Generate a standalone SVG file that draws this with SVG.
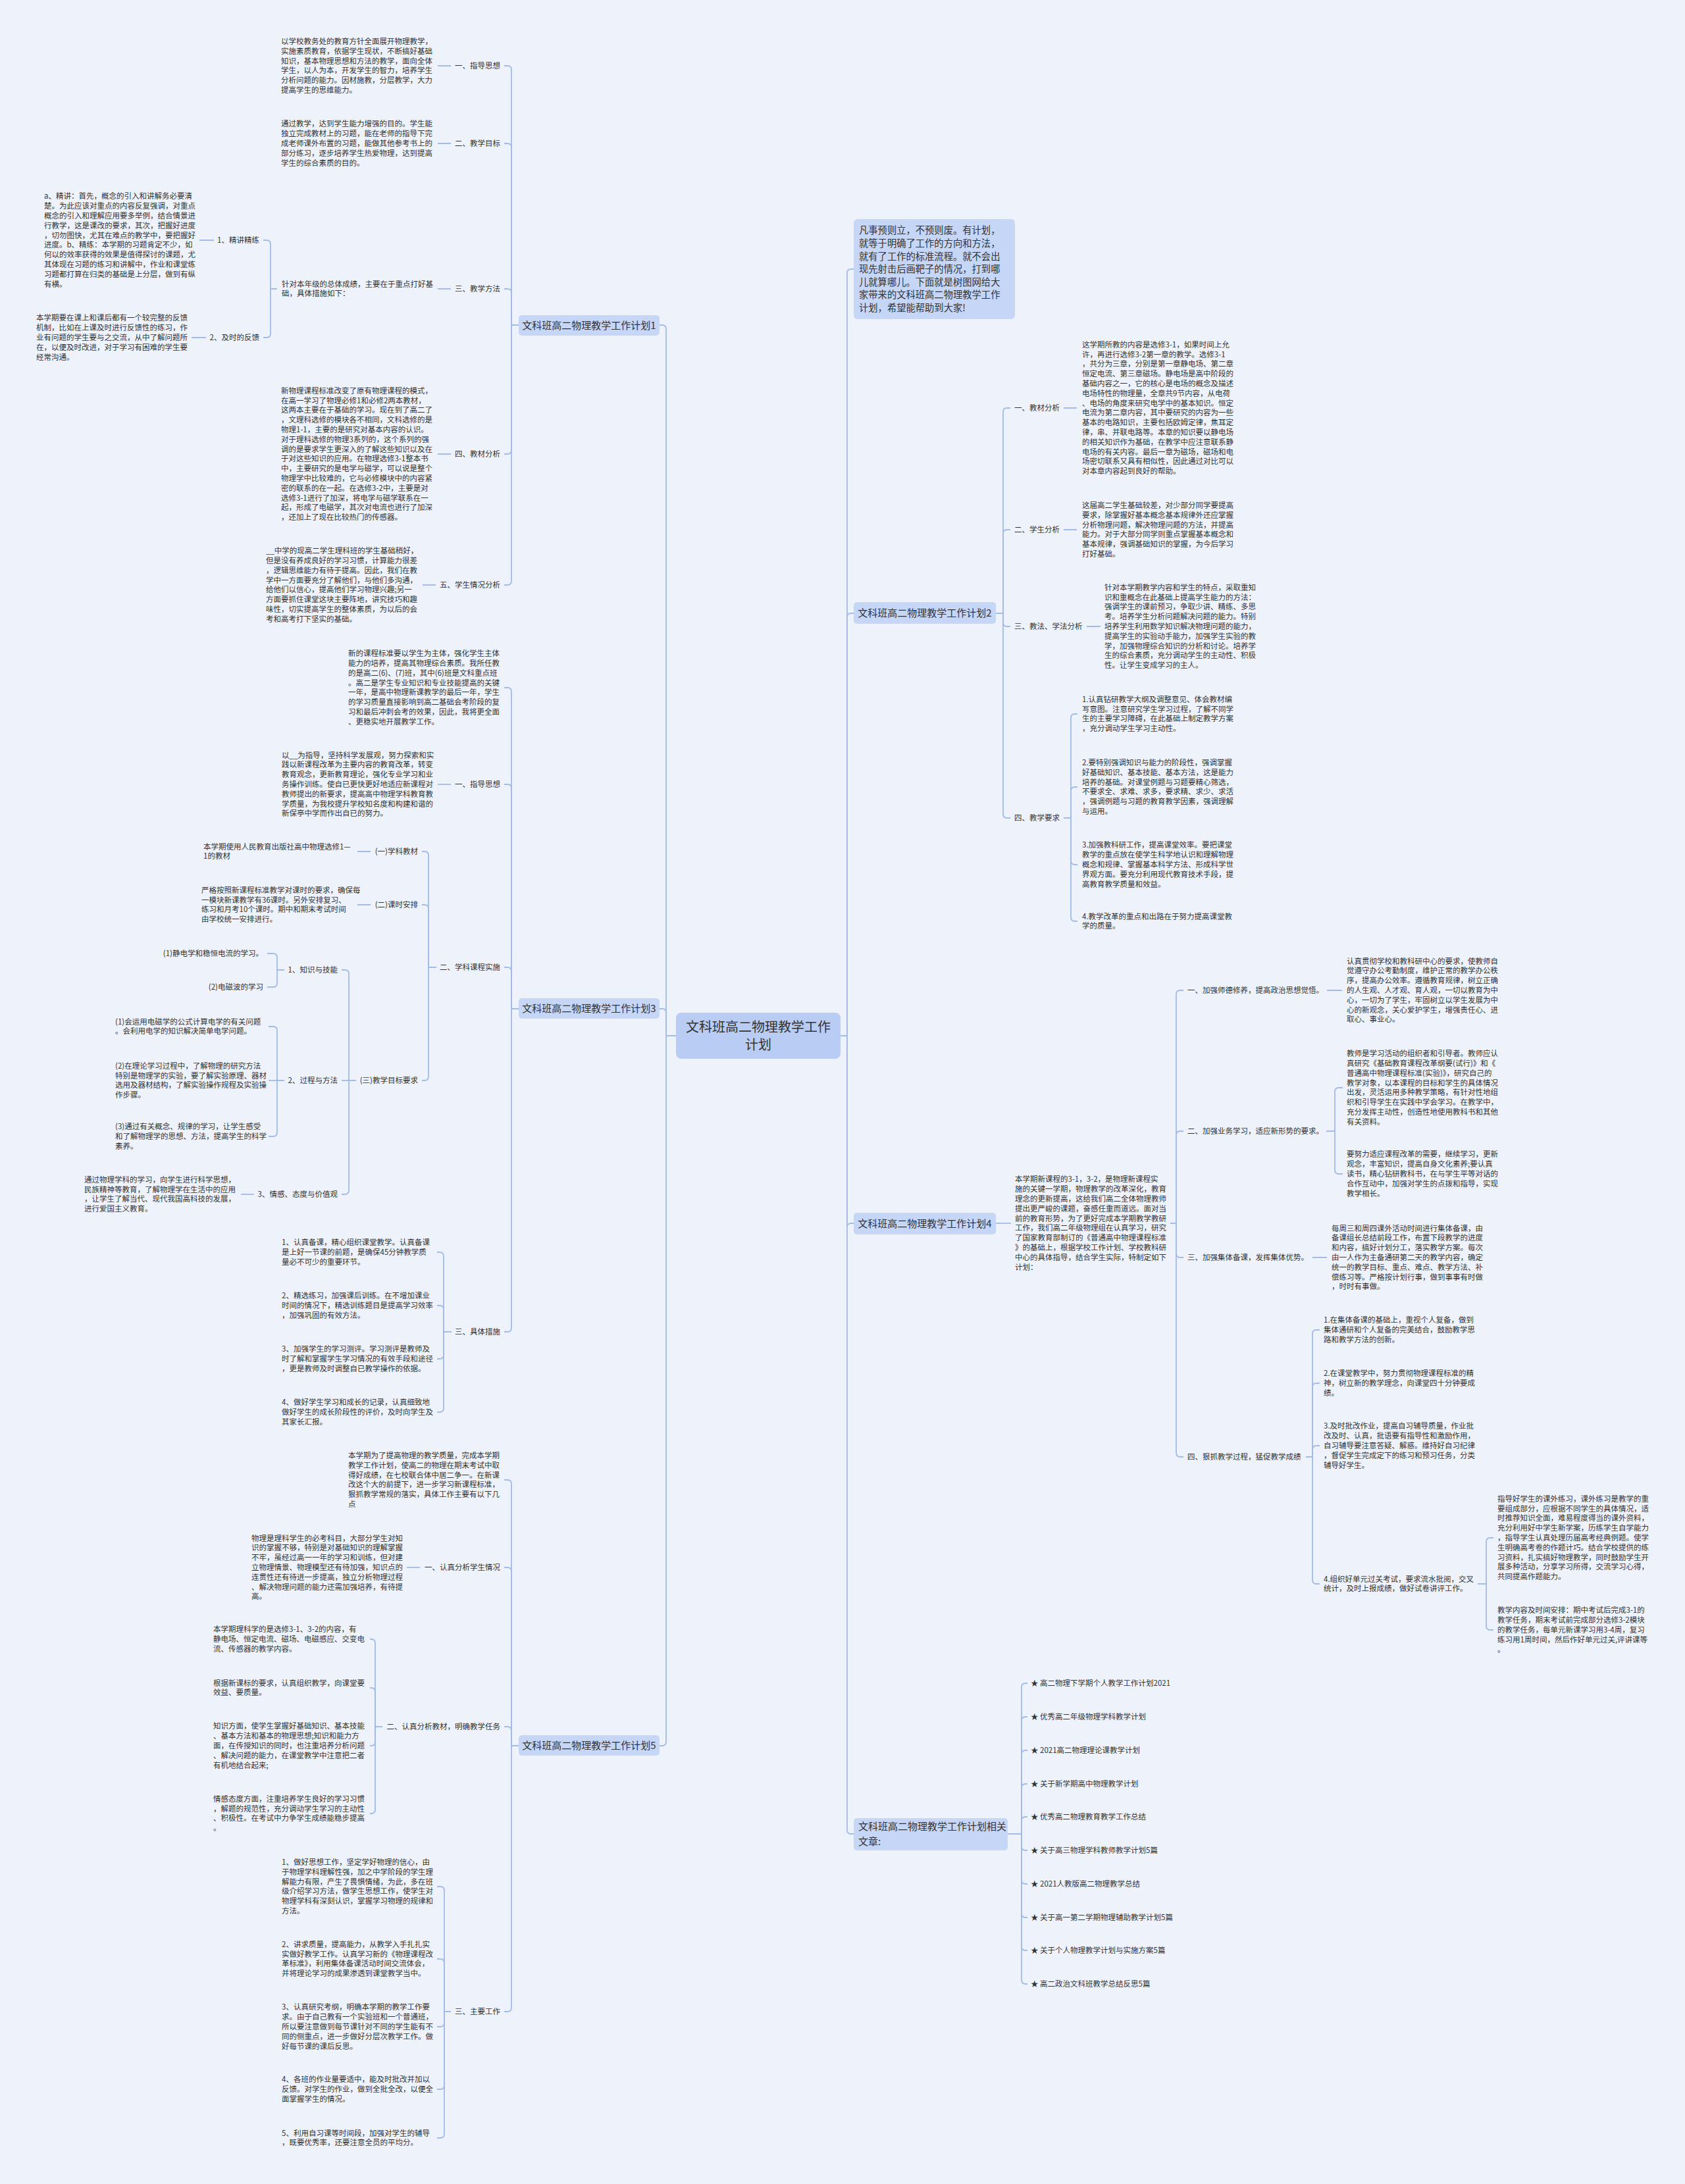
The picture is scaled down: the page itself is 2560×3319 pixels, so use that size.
<svg xmlns="http://www.w3.org/2000/svg" width="2560" height="3319" viewBox="0 0 2560 3319">
<style>
text{font-family:"Noto Sans CJK SC","Noto Sans",sans-serif;fill:#333}
.t{font-size:11.5px}
.e{font-size:11.5px;text-anchor:end}
.pn{font-size:15px;text-anchor:middle}
.ct{font-size:20px;text-anchor:middle}
.it{font-size:14.3px}
.nd{fill:#c5d6f6}
.cn{fill:#b9cdf4}
#connectors path{fill:none;stroke:#a2bbe8;stroke-width:1.8}
</style>
<rect x="0" y="0" width="2560" height="3319" fill="#eef2fa"/>
<g id="connectors">
<path d="M1027 1574H1012V500Q1012 494 1006 494H1002"/>
<path d="M1027 1574H1012V1539Q1012 1533 1006 1533H1002"/>
<path d="M1027 1574H1012V2647Q1012 2653 1006 2653H1002"/>
<path d="M788 494H777V106Q777 100 771 100H766"/>
<path d="M788 494H777V224Q777 218 771 218H766"/>
<path d="M788 494H777V445Q777 439 771 439H766"/>
<path d="M788 494H777V684Q777 690 771 690H766"/>
<path d="M788 494H777V883Q777 889 771 889H766"/>
<path d="M685 100H665M685 218H665M685 439H665M685 690H665M662 889H642"/>
<path d="M421 439H411V371Q411 365 405 365H400"/>
<path d="M421 439H411V507Q411 513 405 513H400"/>
<path d="M325 365H303M313 513H291"/>
<path d="M788 1533H777V1051Q777 1045 771 1045H766"/>
<path d="M788 1533H777V1198Q777 1192 771 1192H766"/>
<path d="M788 1533H777V1476Q777 1470 771 1470H766"/>
<path d="M788 1533H777V2018Q777 2024 771 2024H766"/>
<path d="M685 1192H665"/>
<path d="M663 1470H651V1300Q651 1294 645 1294H641"/>
<path d="M663 1470H651V1381Q651 1375 645 1375H641"/>
<path d="M663 1470H651V1636Q651 1642 645 1642H641"/>
<path d="M563 1294H543M563 1375H543"/>
<path d="M541 1642H530V1480Q530 1474 524 1474H519"/>
<path d="M541 1642H519"/>
<path d="M541 1642H530V1809Q530 1815 524 1815H519"/>
<path d="M432 1474H421V1455Q421 1449 415 1449H406"/>
<path d="M432 1474H421V1494Q421 1500 415 1500H406"/>
<path d="M432 1642H421V1566Q421 1560 415 1560H408"/>
<path d="M432 1642H408"/>
<path d="M432 1642H421V1721Q421 1727 415 1727H408"/>
<path d="M386 1815H366"/>
<path d="M686 2024H674V1909Q674 1903 668 1903H664"/>
<path d="M686 2024H674V1990Q674 1984 668 1984H664"/>
<path d="M686 2024H674V2059Q674 2065 668 2065H664"/>
<path d="M686 2024H674V2140Q674 2146 668 2146H664"/>
<path d="M788 2653H777V2255Q777 2249 771 2249H766"/>
<path d="M788 2653H777V2388Q777 2382 771 2382H766"/>
<path d="M788 2653H777V2630Q777 2624 771 2624H766"/>
<path d="M788 2653H777V3051Q777 3057 771 3057H766"/>
<path d="M638 2382H618"/>
<path d="M581 2624H570V2497Q570 2491 564 2491H562"/>
<path d="M581 2624H570V2571Q570 2565 564 2565H562"/>
<path d="M581 2624H570V2647Q570 2653 564 2653H562"/>
<path d="M581 2624H570V2750Q570 2756 564 2756H562"/>
<path d="M685 3057H675V2873Q675 2867 669 2867H664"/>
<path d="M685 3057H675V2983Q675 2977 669 2977H664"/>
<path d="M685 3057H675V3074Q675 3080 669 3080H664"/>
<path d="M685 3057H675V3169Q675 3175 669 3175H664"/>
<path d="M685 3057H675V3243Q675 3249 669 3249H664"/>
<path d="M1277 1574H1287V415Q1287 409 1293 409H1297"/>
<path d="M1277 1574H1287V938Q1287 932 1293 932H1297"/>
<path d="M1277 1574H1287V1865Q1287 1859 1293 1859H1297"/>
<path d="M1277 1574H1287V2781Q1287 2787 1293 2787H1297"/>
<path d="M1513 932H1524V626Q1524 620 1530 620H1535"/>
<path d="M1513 932H1524V811Q1524 805 1530 805H1535"/>
<path d="M1513 932H1524V946Q1524 952 1530 952H1535"/>
<path d="M1513 932H1524V1237Q1524 1243 1530 1243H1535"/>
<path d="M1616 620H1636M1616 805H1636M1651 952H1672"/>
<path d="M1616 1243H1627V1091Q1627 1085 1633 1085H1637"/>
<path d="M1616 1243H1627V1202Q1627 1196 1633 1196H1637"/>
<path d="M1616 1243H1627V1308Q1627 1314 1633 1314H1637"/>
<path d="M1616 1243H1627V1394Q1627 1400 1633 1400H1637"/>
<path d="M1513 1859H1536"/>
<path d="M1778 1859H1787V1511Q1787 1505 1793 1505H1798"/>
<path d="M1778 1859H1787V1725Q1787 1719 1793 1719H1798"/>
<path d="M1778 1859H1787V1905Q1787 1911 1793 1911H1798"/>
<path d="M1778 1859H1787V2208Q1787 2214 1793 2214H1798"/>
<path d="M2016 1505H2039M1994 1911H2016"/>
<path d="M2015 1719H2028V1659Q2028 1653 2034 1653H2040"/>
<path d="M2015 1719H2028V1778Q2028 1784 2034 1784H2040"/>
<path d="M1984 2214H1994V2027Q1994 2021 2000 2021H2005"/>
<path d="M1984 2214H1994V2108Q1994 2102 2000 2102H2005"/>
<path d="M1984 2214H1994V2203Q1994 2197 2000 2197H2005"/>
<path d="M1984 2214H1994V2401Q1994 2407 2000 2407H2005"/>
<path d="M2245 2407H2258V2343Q2258 2337 2264 2337H2269"/>
<path d="M2245 2407H2258V2471Q2258 2477 2264 2477H2269"/>
<path d="M1531 2787H1552V2564Q1552 2558 1558 2558H1561"/>
<path d="M1531 2787H1552V2615Q1552 2609 1558 2609H1561"/>
<path d="M1531 2787H1552V2666Q1552 2660 1558 2660H1561"/>
<path d="M1531 2787H1552V2717Q1552 2711 1558 2711H1561"/>
<path d="M1531 2787H1552V2767Q1552 2761 1558 2761H1561"/>
<path d="M1531 2787H1552V2806Q1552 2812 1558 2812H1561"/>
<path d="M1531 2787H1552V2857Q1552 2863 1558 2863H1561"/>
<path d="M1531 2787H1552V2908Q1552 2914 1558 2914H1561"/>
<path d="M1531 2787H1552V2958Q1552 2964 1558 2964H1561"/>
<path d="M1531 2787H1552V3009Q1552 3015 1558 3015H1561"/>
</g>
<g id="center">
<rect class="cn" x="1027" y="1539" width="250" height="70" rx="8"/>
<text class="ct" x="1152" y="1568">文科班高二物理教学工作</text>
<text class="ct" x="1152" y="1595">计划</text>
</g>
<g id="plan1">
<rect class="nd" x="788" y="479" width="214" height="31" rx="5"/>
<text class="pn" x="895" y="499.5">文科班高二物理教学工作计划1</text>
</g>
<g id="p1-1">
<text class="e" x="760" y="104">一、指导思想</text>
<text class="t" x="427" y="67"><tspan x="427">以学校教务处的教育方针全面展开物理教学，</tspan><tspan x="427" dy="14.8">实施素质教育，依据学生现状，不断搞好基础</tspan><tspan x="427" dy="14.8">知识，基本物理思想和方法的教学，面向全体</tspan><tspan x="427" dy="14.8">学生，以人为本，开发学生的智力，培养学生</tspan><tspan x="427" dy="14.8">分析问题的能力。因材施教，分层教学，大力</tspan><tspan x="427" dy="14.8">提高学生的思维能力。</tspan></text>
</g>
<g id="p1-2">
<text class="e" x="760" y="222">二、教学目标</text>
<text class="t" x="427" y="192.4"><tspan x="427">通过教学，达到学生能力增强的目的。学生能</tspan><tspan x="427" dy="14.8">独立完成教材上的习题，能在老师的指导下完</tspan><tspan x="427" dy="14.8">成老师课外布置的习题，能做其他参考书上的</tspan><tspan x="427" dy="14.8">部分练习，逐步培养学生热爱物理，达到提高</tspan><tspan x="427" dy="14.8">学生的综合素质的目的。</tspan></text>
</g>
<g id="p1-3">
<text class="e" x="760" y="443">三、教学方法</text>
<text class="t" x="428" y="435.6"><tspan x="428">针对本年级的总体成绩，主要在于重点打好基</tspan><tspan x="428" dy="14.8">础，具体措施如下：</tspan></text>
</g>
<g id="p1-3-1">
<text class="e" x="394" y="369">1、精讲精练</text>
<text class="t" x="67" y="302.4"><tspan x="67">a、精讲：首先，概念的引入和讲解务必要清</tspan><tspan x="67" dy="14.8">楚。为此应该对重点的内容反复强调，对重点</tspan><tspan x="67" dy="14.8">概念的引入和理解应用要多举例，结合情景进</tspan><tspan x="67" dy="14.8">行教学，这是课改的要求，其次，把握好进度</tspan><tspan x="67" dy="14.8">，切勿图快，尤其在难点的教学中，要把握好</tspan><tspan x="67" dy="14.8">进度。b、精练：本学期的习题肯定不少，如</tspan><tspan x="67" dy="14.8">何以的效率获得的效果是值得探讨的课题，尤</tspan><tspan x="67" dy="14.8">其体现在习题的练习和讲解中，作业和课堂练</tspan><tspan x="67" dy="14.8">习题都打算在归类的基础是上分层，做到有纵</tspan><tspan x="67" dy="14.8">有横。</tspan></text>
</g>
<g id="p1-3-2">
<text class="e" x="394" y="517">2、及时的反馈</text>
<text class="t" x="55" y="487.4"><tspan x="55">本学期要在课上和课后都有一个较完整的反馈</tspan><tspan x="55" dy="14.8">机制，比如在上课及时进行反馈性的练习，作</tspan><tspan x="55" dy="14.8">业有问题的学生要与之交流，从中了解问题所</tspan><tspan x="55" dy="14.8">在，以便及时改进，对于学习有困难的学生要</tspan><tspan x="55" dy="14.8">经常沟通。</tspan></text>
</g>
<g id="p1-4">
<text class="e" x="760" y="694">四、教材分析</text>
<text class="t" x="427" y="597.8"><tspan x="427">新物理课程标准改变了原有物理课程的模式，</tspan><tspan x="427" dy="14.8">在高一学习了物理必修1和必修2两本教材，</tspan><tspan x="427" dy="14.8">这两本主要在于基础的学习。现在到了高二了</tspan><tspan x="427" dy="14.8">，文理科选修的模块各不相同，文科选修的是</tspan><tspan x="427" dy="14.8">物理1-1，主要的是研究对基本内容的认识。</tspan><tspan x="427" dy="14.8">对于理科选修的物理3系列的，这个系列的强</tspan><tspan x="427" dy="14.8">调的是要求学生更深入的了解这些知识以及在</tspan><tspan x="427" dy="14.8">于对这些知识的应用。在物理选修3-1整本书</tspan><tspan x="427" dy="14.8">中，主要研究的是电学与磁学，可以说是整个</tspan><tspan x="427" dy="14.8">物理学中比较难的，它与必修模块中的内容紧</tspan><tspan x="427" dy="14.8">密的联系的在一起。在选修3-2中，主要是对</tspan><tspan x="427" dy="14.8">选修3-1进行了加深，将电学与磁学联系在一</tspan><tspan x="427" dy="14.8">起，形成了电磁学，其次对电流也进行了加深</tspan><tspan x="427" dy="14.8">，还加上了现在比较热门的传感器。</tspan></text>
</g>
<g id="p1-5">
<text class="e" x="760" y="893">五、学生情况分析</text>
<text class="t" x="404" y="841.2"><tspan x="404">__中学的现高二学生理科班的学生基础稍好，</tspan><tspan x="404" dy="14.8">但是没有养成良好的学习习惯，计算能力很差</tspan><tspan x="404" dy="14.8">，逻辑思维能力有待于提高。因此，我们在教</tspan><tspan x="404" dy="14.8">学中一方面要充分了解他们，与他们多沟通，</tspan><tspan x="404" dy="14.8">给他们以信心，提高他们学习物理兴趣;另一</tspan><tspan x="404" dy="14.8">方面要抓住课堂这块主要阵地，讲究技巧和趣</tspan><tspan x="404" dy="14.8">味性，切实提高学生的整体素质，为以后的会</tspan><tspan x="404" dy="14.8">考和高考打下坚实的基础。</tspan></text>
</g>
<g id="plan3">
<rect class="nd" x="788" y="1517" width="214" height="31" rx="5"/>
<text class="pn" x="895" y="1538">文科班高二物理教学工作计划3</text>
</g>
<g id="p3-0">
<text class="t" x="529" y="997.2"><tspan x="529">新的课程标准要以学生为主体，强化学生主体</tspan><tspan x="529" dy="14.8">能力的培养，提高其物理综合素质。我所任教</tspan><tspan x="529" dy="14.8">的是高二(6)、(7)班，其中(6)班是文科重点班</tspan><tspan x="529" dy="14.8">。高二是学生专业知识和专业技能提高的关键</tspan><tspan x="529" dy="14.8">一年，是高中物理新课教学的最后一年，学生</tspan><tspan x="529" dy="14.8">的学习质量直接影响到高二基础会考阶段的复</tspan><tspan x="529" dy="14.8">习和最后冲刺会考的效果，因此，我将更全面</tspan><tspan x="529" dy="14.8">、更稳实地开展教学工作。</tspan></text>
</g>
<g id="p3-1">
<text class="e" x="760" y="1196">一、指导思想</text>
<text class="t" x="428" y="1151.6"><tspan x="428">以__为指导，坚持科学发展观，努力探索和实</tspan><tspan x="428" dy="14.8">践以新课程改革为主要内容的教育改革，转变</tspan><tspan x="428" dy="14.8">教育观念，更新教育理论，强化专业学习和业</tspan><tspan x="428" dy="14.8">务操作训练。使自已更快更好地适应新课程对</tspan><tspan x="428" dy="14.8">教师提出的新要求，提高高中物理学科教育教</tspan><tspan x="428" dy="14.8">学质量，为我校提升学校知名度和构建和谐的</tspan><tspan x="428" dy="14.8">新保亭中学而作出自已的努力。</tspan></text>
</g>
<g id="p3-2">
<text class="e" x="760" y="1474">二、学科课程实施</text>
</g>
<g id="p3-2-1">
<text class="e" x="635" y="1298">(一)学科教材</text>
<text class="t" x="309" y="1290.6"><tspan x="309">本学期使用人民教育出版社高中物理选修1—</tspan><tspan x="309" dy="14.8">1的教材</tspan></text>
</g>
<g id="p3-2-2">
<text class="e" x="635" y="1379">(二)课时安排</text>
<text class="t" x="306" y="1356.8"><tspan x="306">严格按照新课程标准教学对课时的要求，确保每</tspan><tspan x="306" dy="14.8">一模块新课教学有36课时。另外安排复习、</tspan><tspan x="306" dy="14.8">练习和月考10个课时。期中和期末考试时间</tspan><tspan x="306" dy="14.8">由学校统一安排进行。</tspan></text>
</g>
<g id="p3-2-3">
<text class="e" x="635" y="1646">(三)教学目标要求</text>
</g>
<g id="p3-2-3-1">
<text class="e" x="513" y="1478">1、知识与技能</text>
<text class="e" x="400" y="1453">(1)静电学和稳恒电流的学习。</text>
<text class="e" x="400" y="1504">(2)电磁波的学习</text>
</g>
<g id="p3-2-3-2">
<text class="e" x="513" y="1646">2、过程与方法</text>
<text class="t" x="175" y="1556.6"><tspan x="175">(1)会运用电磁学的公式计算电学的有关问题</tspan><tspan x="175" dy="14.8">。会利用电学的知识解决简单电学问题。</tspan></text>
<text class="t" x="175" y="1623.8"><tspan x="175">(2)在理论学习过程中，了解物理的研究方法</tspan><tspan x="175" dy="14.8">特别是物理学的实验，要了解实验原理、器材</tspan><tspan x="175" dy="14.8">选用及器材结构，了解实验操作规程及实验操</tspan><tspan x="175" dy="14.8">作步骤。</tspan></text>
<text class="t" x="175" y="1716.2"><tspan x="175">(3)通过有关概念、规律的学习，让学生感受</tspan><tspan x="175" dy="14.8">和了解物理学的思想、方法，提高学生的科学</tspan><tspan x="175" dy="14.8">素养。</tspan></text>
</g>
<g id="p3-2-3-3">
<text class="e" x="513" y="1819">3、情感、态度与价值观</text>
<text class="t" x="128" y="1796.8"><tspan x="128">通过物理学科的学习，向学生进行科学思想，</tspan><tspan x="128" dy="14.8">民族精神等教育，了解物理学在生活中的应用</tspan><tspan x="128" dy="14.8">，让学生了解当代、现代我国高科技的发展，</tspan><tspan x="128" dy="14.8">进行爱国主义教育。</tspan></text>
</g>
<g id="p3-3">
<text class="e" x="760" y="2028">三、具体措施</text>
<text class="t" x="428" y="1892.2"><tspan x="428">1、认真备课，精心组织课堂教学。认真备课</tspan><tspan x="428" dy="14.8">是上好一节课的前题，是确保45分钟教学质</tspan><tspan x="428" dy="14.8">量必不可少的重要环节。</tspan></text>
<text class="t" x="428" y="1973.2"><tspan x="428">2、精选练习，加强课后训练。在不增加课业</tspan><tspan x="428" dy="14.8">时间的情况下，精选训练题目是提高学习效率</tspan><tspan x="428" dy="14.8">，加强巩固的有效方法。</tspan></text>
<text class="t" x="428" y="2054.2"><tspan x="428">3、加强学生的学习测评。学习测评是教师及</tspan><tspan x="428" dy="14.8">时了解和掌握学生学习情况的有效手段和途径</tspan><tspan x="428" dy="14.8">，更是教师及时调整自已教学操作的依据。</tspan></text>
<text class="t" x="428" y="2135.2"><tspan x="428">4、做好学生学习和成长的记录，认真细致地</tspan><tspan x="428" dy="14.8">做好学生的成长阶段性的评价，及时向学生及</tspan><tspan x="428" dy="14.8">其家长汇报。</tspan></text>
</g>
<g id="plan5">
<rect class="nd" x="788" y="2637" width="214" height="31" rx="5"/>
<text class="pn" x="895" y="2658">文科班高二物理教学工作计划5</text>
</g>
<g id="p5-0">
<text class="t" x="529" y="2216"><tspan x="529">本学期为了提高物理的教学质量，完成本学期</tspan><tspan x="529" dy="14.8">教学工作计划，使高二的物理在期末考试中取</tspan><tspan x="529" dy="14.8">得好成绩，在七校联合体中居二争一。在新课</tspan><tspan x="529" dy="14.8">改这个大的前提下，进一步学习新课程标准，</tspan><tspan x="529" dy="14.8">狠抓教学常规的落实，具体工作主要有以下几</tspan><tspan x="529" dy="14.8">点</tspan></text>
</g>
<g id="p5-1">
<text class="e" x="760" y="2386">一、认真分析学生情况</text>
<text class="t" x="382" y="2341.6"><tspan x="382">物理是理科学生的必考科目，大部分学生对知</tspan><tspan x="382" dy="14.8">识的掌握不够，特别是对基础知识的理解掌握</tspan><tspan x="382" dy="14.8">不牢，虽经过高一一年的学习和训练，但对建</tspan><tspan x="382" dy="14.8">立物理情景、物理模型还有待加强，知识点的</tspan><tspan x="382" dy="14.8">连贯性还有待进一步提高，独立分析物理过程</tspan><tspan x="382" dy="14.8">、解决物理问题的能力还需加强培养，有待提</tspan><tspan x="382" dy="14.8">高。</tspan></text>
</g>
<g id="p5-2">
<text class="e" x="760" y="2628">二、认真分析教材，明确教学任务</text>
<text class="t" x="324" y="2480.2"><tspan x="324">本学期理科学的是选修3-1、3-2的内容，有</tspan><tspan x="324" dy="14.8">静电场、恒定电流、磁场、电磁感应、交变电</tspan><tspan x="324" dy="14.8">流、传感器的教学内容。</tspan></text>
<text class="t" x="324" y="2561.6"><tspan x="324">根据新课标的要求，认真组织教学，向课堂要</tspan><tspan x="324" dy="14.8">效益、要质量。</tspan></text>
<text class="t" x="324" y="2627.4"><tspan x="324">知识方面，使学生掌握好基础知识、基本技能</tspan><tspan x="324" dy="14.8">、基本方法和基本的物理思想;知识和能力方</tspan><tspan x="324" dy="14.8">面，在传授知识的同时，也注重培养分析问题</tspan><tspan x="324" dy="14.8">、解决问题的能力，在课堂教学中注意把二者</tspan><tspan x="324" dy="14.8">有机地结合起来;</tspan></text>
<text class="t" x="324" y="2737.8"><tspan x="324">情感态度方面，注重培养学生良好的学习习惯</tspan><tspan x="324" dy="14.8">，解题的规范性，充分调动学生学习的主动性</tspan><tspan x="324" dy="14.8">、积极性。在考试中力争学生成绩能稳步提高</tspan><tspan x="324" dy="14.8">。</tspan></text>
</g>
<g id="p5-3">
<text class="e" x="760" y="3061">三、主要工作</text>
<text class="t" x="428" y="2834"><tspan x="428">1、做好思想工作，坚定学好物理的信心，由</tspan><tspan x="428" dy="14.8">于物理学科理解性强，加之中学阶段的学生理</tspan><tspan x="428" dy="14.8">解能力有限，产生了畏惧情绪，为此，多在班</tspan><tspan x="428" dy="14.8">级介绍学习方法，做学生思想工作，使学生对</tspan><tspan x="428" dy="14.8">物理学科有深刻认识，掌握学习物理的规律和</tspan><tspan x="428" dy="14.8">方法。</tspan></text>
<text class="t" x="428" y="2958.8"><tspan x="428">2、讲求质量，提高能力，从教学入手扎扎实</tspan><tspan x="428" dy="14.8">实做好教学工作。认真学习新的《物理课程改</tspan><tspan x="428" dy="14.8">革标准》，利用集体备课活动时间交流体会，</tspan><tspan x="428" dy="14.8">并将理论学习的成果渗透到课堂教学当中。</tspan></text>
<text class="t" x="428" y="3054.4"><tspan x="428">3、认真研究考纲，明确本学期的教学工作要</tspan><tspan x="428" dy="14.8">求。由于自己教有一个实验班和一个普通班，</tspan><tspan x="428" dy="14.8">所以要注意做到每节课针对不同的学生能有不</tspan><tspan x="428" dy="14.8">同的侧重点，进一步做好分层次教学工作。做</tspan><tspan x="428" dy="14.8">好每节课的课后反思。</tspan></text>
<text class="t" x="428" y="3164.2"><tspan x="428">4、各班的作业量要适中，能及时批改并加以</tspan><tspan x="428" dy="14.8">反馈。对学生的作业，做到全批全改，以便全</tspan><tspan x="428" dy="14.8">面掌握学生的情况。</tspan></text>
<text class="t" x="428" y="3245.6"><tspan x="428">5、利用自习课等时间段，加强对学生的辅导</tspan><tspan x="428" dy="14.8">，既要优秀率，还要注意全员的平均分。</tspan></text>
</g>
<g id="intro">
<rect class="nd" x="1297" y="333" width="245" height="152" rx="6"/>
<text class="it" x="1305" y="355.4"><tspan x="1305">凡事预则立，不预则废。有计划，</tspan><tspan x="1305" dy="19.6">就等于明确了工作的方向和方法，</tspan><tspan x="1305" dy="19.6">就有了工作的标准流程。就不会出</tspan><tspan x="1305" dy="19.6">现先射击后画靶子的情况，打到哪</tspan><tspan x="1305" dy="19.6">儿就算哪儿。下面就是树图网给大</tspan><tspan x="1305" dy="19.6">家带来的文科班高二物理教学工作</tspan><tspan x="1305" dy="19.6">计划，希望能帮助到大家!</tspan></text>
</g>
<g id="plan2">
<rect class="nd" x="1297" y="915" width="216" height="33" rx="5"/>
<text class="pn" x="1405" y="937">文科班高二物理教学工作计划2</text>
</g>
<g id="p2-1">
<text class="t" x="1541" y="624">一、教材分析</text>
<text class="t" x="1644" y="527.8"><tspan x="1644">这学期所教的内容是选修3-1，如果时间上允</tspan><tspan x="1644" dy="14.8">许，再进行选修3-2第一章的教学。选修3-1</tspan><tspan x="1644" dy="14.8">，共分为三章，分别是第一章静电场、第二章</tspan><tspan x="1644" dy="14.8">恒定电流、第三章磁场。静电场是高中阶段的</tspan><tspan x="1644" dy="14.8">基础内容之一，它的核心是电场的概念及描述</tspan><tspan x="1644" dy="14.8">电场特性的物理量，全章共9节内容，从电荷</tspan><tspan x="1644" dy="14.8">、电场的角度来研究电学中的基本知识。恒定</tspan><tspan x="1644" dy="14.8">电流为第二章内容，其中要研究的内容为一些</tspan><tspan x="1644" dy="14.8">基本的电路知识，主要包括欧姆定律，焦耳定</tspan><tspan x="1644" dy="14.8">律，串、并联电路等。本章的知识要以静电场</tspan><tspan x="1644" dy="14.8">的相关知识作为基础，在教学中应注意联系静</tspan><tspan x="1644" dy="14.8">电场的有关内容。最后一章为磁场，磁场和电</tspan><tspan x="1644" dy="14.8">场密切联系又具有相似性，因此通过对比可以</tspan><tspan x="1644" dy="14.8">对本章内容起到良好的帮助。</tspan></text>
</g>
<g id="p2-2">
<text class="t" x="1541" y="809">二、学生分析</text>
<text class="t" x="1644" y="772"><tspan x="1644">这届高二学生基础较差，对少部分同学要提高</tspan><tspan x="1644" dy="14.8">要求，除掌握好基本概念基本规律外还应掌握</tspan><tspan x="1644" dy="14.8">分析物理问题，解决物理问题的方法，并提高</tspan><tspan x="1644" dy="14.8">能力。对于大部分同学则重点掌握基本概念和</tspan><tspan x="1644" dy="14.8">基本规律，强调基础知识的掌握，为今后学习</tspan><tspan x="1644" dy="14.8">打好基础。</tspan></text>
</g>
<g id="p2-3">
<text class="t" x="1541" y="956">三、教法、学法分析</text>
<text class="t" x="1678" y="896.8"><tspan x="1678">针对本学期教学内容和学生的特点，采取重知</tspan><tspan x="1678" dy="14.8">识和重概念在此基础上提高学生能力的方法：</tspan><tspan x="1678" dy="14.8">强调学生的课前预习，争取少讲、精练、多思</tspan><tspan x="1678" dy="14.8">考。培养学生分析问题解决问题的能力。特别</tspan><tspan x="1678" dy="14.8">培养学生利用数学知识解决物理问题的能力，</tspan><tspan x="1678" dy="14.8">提高学生的实验动手能力，加强学生实验的教</tspan><tspan x="1678" dy="14.8">学，加强物理综合知识的分析和讨论。培养学</tspan><tspan x="1678" dy="14.8">生的综合素质，充分调动学生的主动性、积极</tspan><tspan x="1678" dy="14.8">性。让学生变成学习的主人。</tspan></text>
</g>
<g id="p2-4">
<text class="t" x="1541" y="1247">四、教学要求</text>
<text class="t" x="1644" y="1066.8"><tspan x="1644">1.认真钻研教学大纲及调整意见、体会教材编</tspan><tspan x="1644" dy="14.8">写意图。注意研究学生学习过程，了解不同学</tspan><tspan x="1644" dy="14.8">生的主要学习障碍，在此基础上制定教学方案</tspan><tspan x="1644" dy="14.8">，充分调动学生学习主动性。</tspan></text>
<text class="t" x="1644" y="1163"><tspan x="1644">2.要特别强调知识与能力的阶段性，强调掌握</tspan><tspan x="1644" dy="14.8">好基础知识、基本技能、基本方法，这是能力</tspan><tspan x="1644" dy="14.8">培养的基础。对课堂例题与习题要精心筛选，</tspan><tspan x="1644" dy="14.8">不要求全、求难、求多，要求精、求少、求活</tspan><tspan x="1644" dy="14.8">，强调例题与习题的教育教学因素，强调理解</tspan><tspan x="1644" dy="14.8">与运用。</tspan></text>
<text class="t" x="1644" y="1288.4"><tspan x="1644">3.加强教科研工作，提高课堂效率。要把课堂</tspan><tspan x="1644" dy="14.8">教学的重点放在使学生科学地认识和理解物理</tspan><tspan x="1644" dy="14.8">概念和规律、掌握基本科学方法、形成科学世</tspan><tspan x="1644" dy="14.8">界观方面。要充分利用现代教育技术手段，提</tspan><tspan x="1644" dy="14.8">高教育教学质量和效益。</tspan></text>
<text class="t" x="1644" y="1396.6"><tspan x="1644">4.教学改革的重点和出路在于努力提高课堂教</tspan><tspan x="1644" dy="14.8">学的质量。</tspan></text>
</g>
<g id="plan4">
<rect class="nd" x="1297" y="1843" width="216" height="33" rx="5"/>
<text class="pn" x="1405" y="1865">文科班高二物理教学工作计划4</text>
</g>
<g id="p4-0">
<text class="t" x="1542" y="1796.4"><tspan x="1542">本学期新课程的3-1，3-2，是物理新课程实</tspan><tspan x="1542" dy="14.8">施的关键一学期，物理教学的改革深化，教育</tspan><tspan x="1542" dy="14.8">理念的更新提高，这给我们高二全体物理教师</tspan><tspan x="1542" dy="14.8">提出更严峻的课题，奋感任重而道远。面对当</tspan><tspan x="1542" dy="14.8">前的教育形势，为了更好完成本学期教学教研</tspan><tspan x="1542" dy="14.8">工作，我们高二年级物理组在认真学习，研究</tspan><tspan x="1542" dy="14.8">了国家教育部制订的《普通高中物理课程标准</tspan><tspan x="1542" dy="14.8">》的基础上，根据学校工作计划、学校教科研</tspan><tspan x="1542" dy="14.8">中心的具体指导，结合学生实际，特制定如下</tspan><tspan x="1542" dy="14.8">计划：</tspan></text>
</g>
<g id="p4-1">
<text class="t" x="1804" y="1509">一、加强师德修养，提高政治思想觉悟。</text>
<text class="t" x="2046" y="1464.6"><tspan x="2046">认真贯彻学校和教科研中心的要求，使教师自</tspan><tspan x="2046" dy="14.8">觉遵守办公考勤制度，维护正常的教学办公秩</tspan><tspan x="2046" dy="14.8">序，提高办公效率。遵循教育规律，树立正确</tspan><tspan x="2046" dy="14.8">的人生观、人才观、育人观，一切以教育为中</tspan><tspan x="2046" dy="14.8">心，一切为了学生，牢固树立以学生发展为中</tspan><tspan x="2046" dy="14.8">心的新观念，关心爱护学生，增强责任心、进</tspan><tspan x="2046" dy="14.8">取心、事业心。</tspan></text>
</g>
<g id="p4-2">
<text class="t" x="1804" y="1723">二、加强业务学习，适应新形势的要求。</text>
<text class="t" x="2046" y="1605.2"><tspan x="2046">教师是学习活动的组织者和引导者。教师应认</tspan><tspan x="2046" dy="14.8">真研究《基础教育课程改革纲要(试行)》和《</tspan><tspan x="2046" dy="14.8">普通高中物理课程标准(实验)》，研究自己的</tspan><tspan x="2046" dy="14.8">教学对象，以本课程的目标和学生的具体情况</tspan><tspan x="2046" dy="14.8">出发，灵活运用多种教学策略，有针对性地组</tspan><tspan x="2046" dy="14.8">织和引导学生在实践中学会学习。在教学中，</tspan><tspan x="2046" dy="14.8">充分发挥主动性，创造性地使用教科书和其他</tspan><tspan x="2046" dy="14.8">有关资料。</tspan></text>
<text class="t" x="2046" y="1758.4"><tspan x="2046">要努力适应课程改革的需要，继续学习，更新</tspan><tspan x="2046" dy="14.8">观念，丰富知识，提高自身文化素养;要认真</tspan><tspan x="2046" dy="14.8">读书，精心钻研教科书，在与学生平等对话的</tspan><tspan x="2046" dy="14.8">合作互动中，加强对学生的点拨和指导，实现</tspan><tspan x="2046" dy="14.8">教学相长。</tspan></text>
</g>
<g id="p4-3">
<text class="t" x="1804" y="1915">三、加强集体备课，发挥集体优势。</text>
<text class="t" x="2023" y="1870.6"><tspan x="2023">每周三和周四课外活动时间进行集体备课，由</tspan><tspan x="2023" dy="14.8">备课组长总结前段工作，布置下段教学的进度</tspan><tspan x="2023" dy="14.8">和内容，搞好计划分工，落实教学方案。每次</tspan><tspan x="2023" dy="14.8">由一人作为主备通研第二天的教学内容，确定</tspan><tspan x="2023" dy="14.8">统一的教学目标、重点、难点、教学方法、补</tspan><tspan x="2023" dy="14.8">偿练习等。严格按计划行事，做到事事有时做</tspan><tspan x="2023" dy="14.8">，时时有事做。</tspan></text>
</g>
<g id="p4-4">
<text class="t" x="1804" y="2218">四、狠抓教学过程，猛促教学成绩</text>
<text class="t" x="2011" y="2010.2"><tspan x="2011">1.在集体备课的基础上，重视个人复备，做到</tspan><tspan x="2011" dy="14.8">集体通研和个人复备的完美结合，鼓励教学思</tspan><tspan x="2011" dy="14.8">路和教学方法的创新。</tspan></text>
<text class="t" x="2011" y="2091.2"><tspan x="2011">2.在课堂教学中，努力贯彻物理课程标准的精</tspan><tspan x="2011" dy="14.8">神，树立新的教学理念，向课堂四十分钟要成</tspan><tspan x="2011" dy="14.8">绩。</tspan></text>
<text class="t" x="2011" y="2171.4"><tspan x="2011">3.及时批改作业，提高自习辅导质量，作业批</tspan><tspan x="2011" dy="14.8">改及时、认真，批语要有指导性和激励作用，</tspan><tspan x="2011" dy="14.8">自习辅导要注意答疑、解惑。维持好自习纪律</tspan><tspan x="2011" dy="14.8">，督促学生完成定下的练习和预习任务，分类</tspan><tspan x="2011" dy="14.8">辅导好学生。</tspan></text>
<text class="t" x="2011" y="2403.6"><tspan x="2011">4.组织好单元过关考试，要求流水批阅，交叉</tspan><tspan x="2011" dy="14.8">统计，及时上报成绩，做好试卷讲评工作。</tspan></text>
</g>
<g id="p4-4-4">
<text class="t" x="2275" y="2281.8"><tspan x="2275">指导好学生的课外练习，课外练习是教学的重</tspan><tspan x="2275" dy="14.8">要组成部分，应根据不同学生的具体情况，适</tspan><tspan x="2275" dy="14.8">时推荐知识全面，难易程度得当的课外资料，</tspan><tspan x="2275" dy="14.8">充分利用好中学生新学案，历练学生自学能力</tspan><tspan x="2275" dy="14.8">，指导学生认真处理历届高考经典例题。使学</tspan><tspan x="2275" dy="14.8">生明确高考卷的作题计巧。结合学校提供的练</tspan><tspan x="2275" dy="14.8">习资料，扎实搞好物理教学，同时鼓励学生开</tspan><tspan x="2275" dy="14.8">展多种活动，分享学习所得，交流学习心得，</tspan><tspan x="2275" dy="14.8">共同提高作题能力。</tspan></text>
<text class="t" x="2275" y="2451.4"><tspan x="2275">教学内容及时间安排：期中考试后完成3-1的</tspan><tspan x="2275" dy="14.8">教学任务，期末考试前完成部分选修3-2模块</tspan><tspan x="2275" dy="14.8">的教学任务，每单元新课学习用3-4周，复习</tspan><tspan x="2275" dy="14.8">练习用1周时间，然后作好单元过关,评讲课等</tspan><tspan x="2275" dy="14.8">。</tspan></text>
</g>
<g id="related">
<rect class="nd" x="1297" y="2763" width="234" height="49" rx="5"/>
<text class="it" x="1304" y="2781" style="font-size:15px">文科班高二物理教学工作计划相关</text>
<text class="it" x="1304" y="2804" style="font-size:15px">文章:</text>
</g>
<g id="related-items">
<text class="t" x="1566" y="2562">★ 高二物理下学期个人教学工作计划2021</text>
<text class="t" x="1566" y="2613">★ 优秀高二年级物理学科教学计划</text>
<text class="t" x="1566" y="2664">★ 2021高二物理理论课教学计划</text>
<text class="t" x="1566" y="2715">★ 关于新学期高中物理教学计划</text>
<text class="t" x="1566" y="2765">★ 优秀高二物理教育教学工作总结</text>
<text class="t" x="1566" y="2816">★ 关于高三物理学科教师教学计划5篇</text>
<text class="t" x="1566" y="2867">★ 2021人教版高二物理教学总结</text>
<text class="t" x="1566" y="2918">★ 关于高一第二学期物理辅助教学计划5篇</text>
<text class="t" x="1566" y="2968">★ 关于个人物理教学计划与实施方案5篇</text>
<text class="t" x="1566" y="3019">★ 高二政治文科班教学总结反思5篇</text>
</g>
</svg>
